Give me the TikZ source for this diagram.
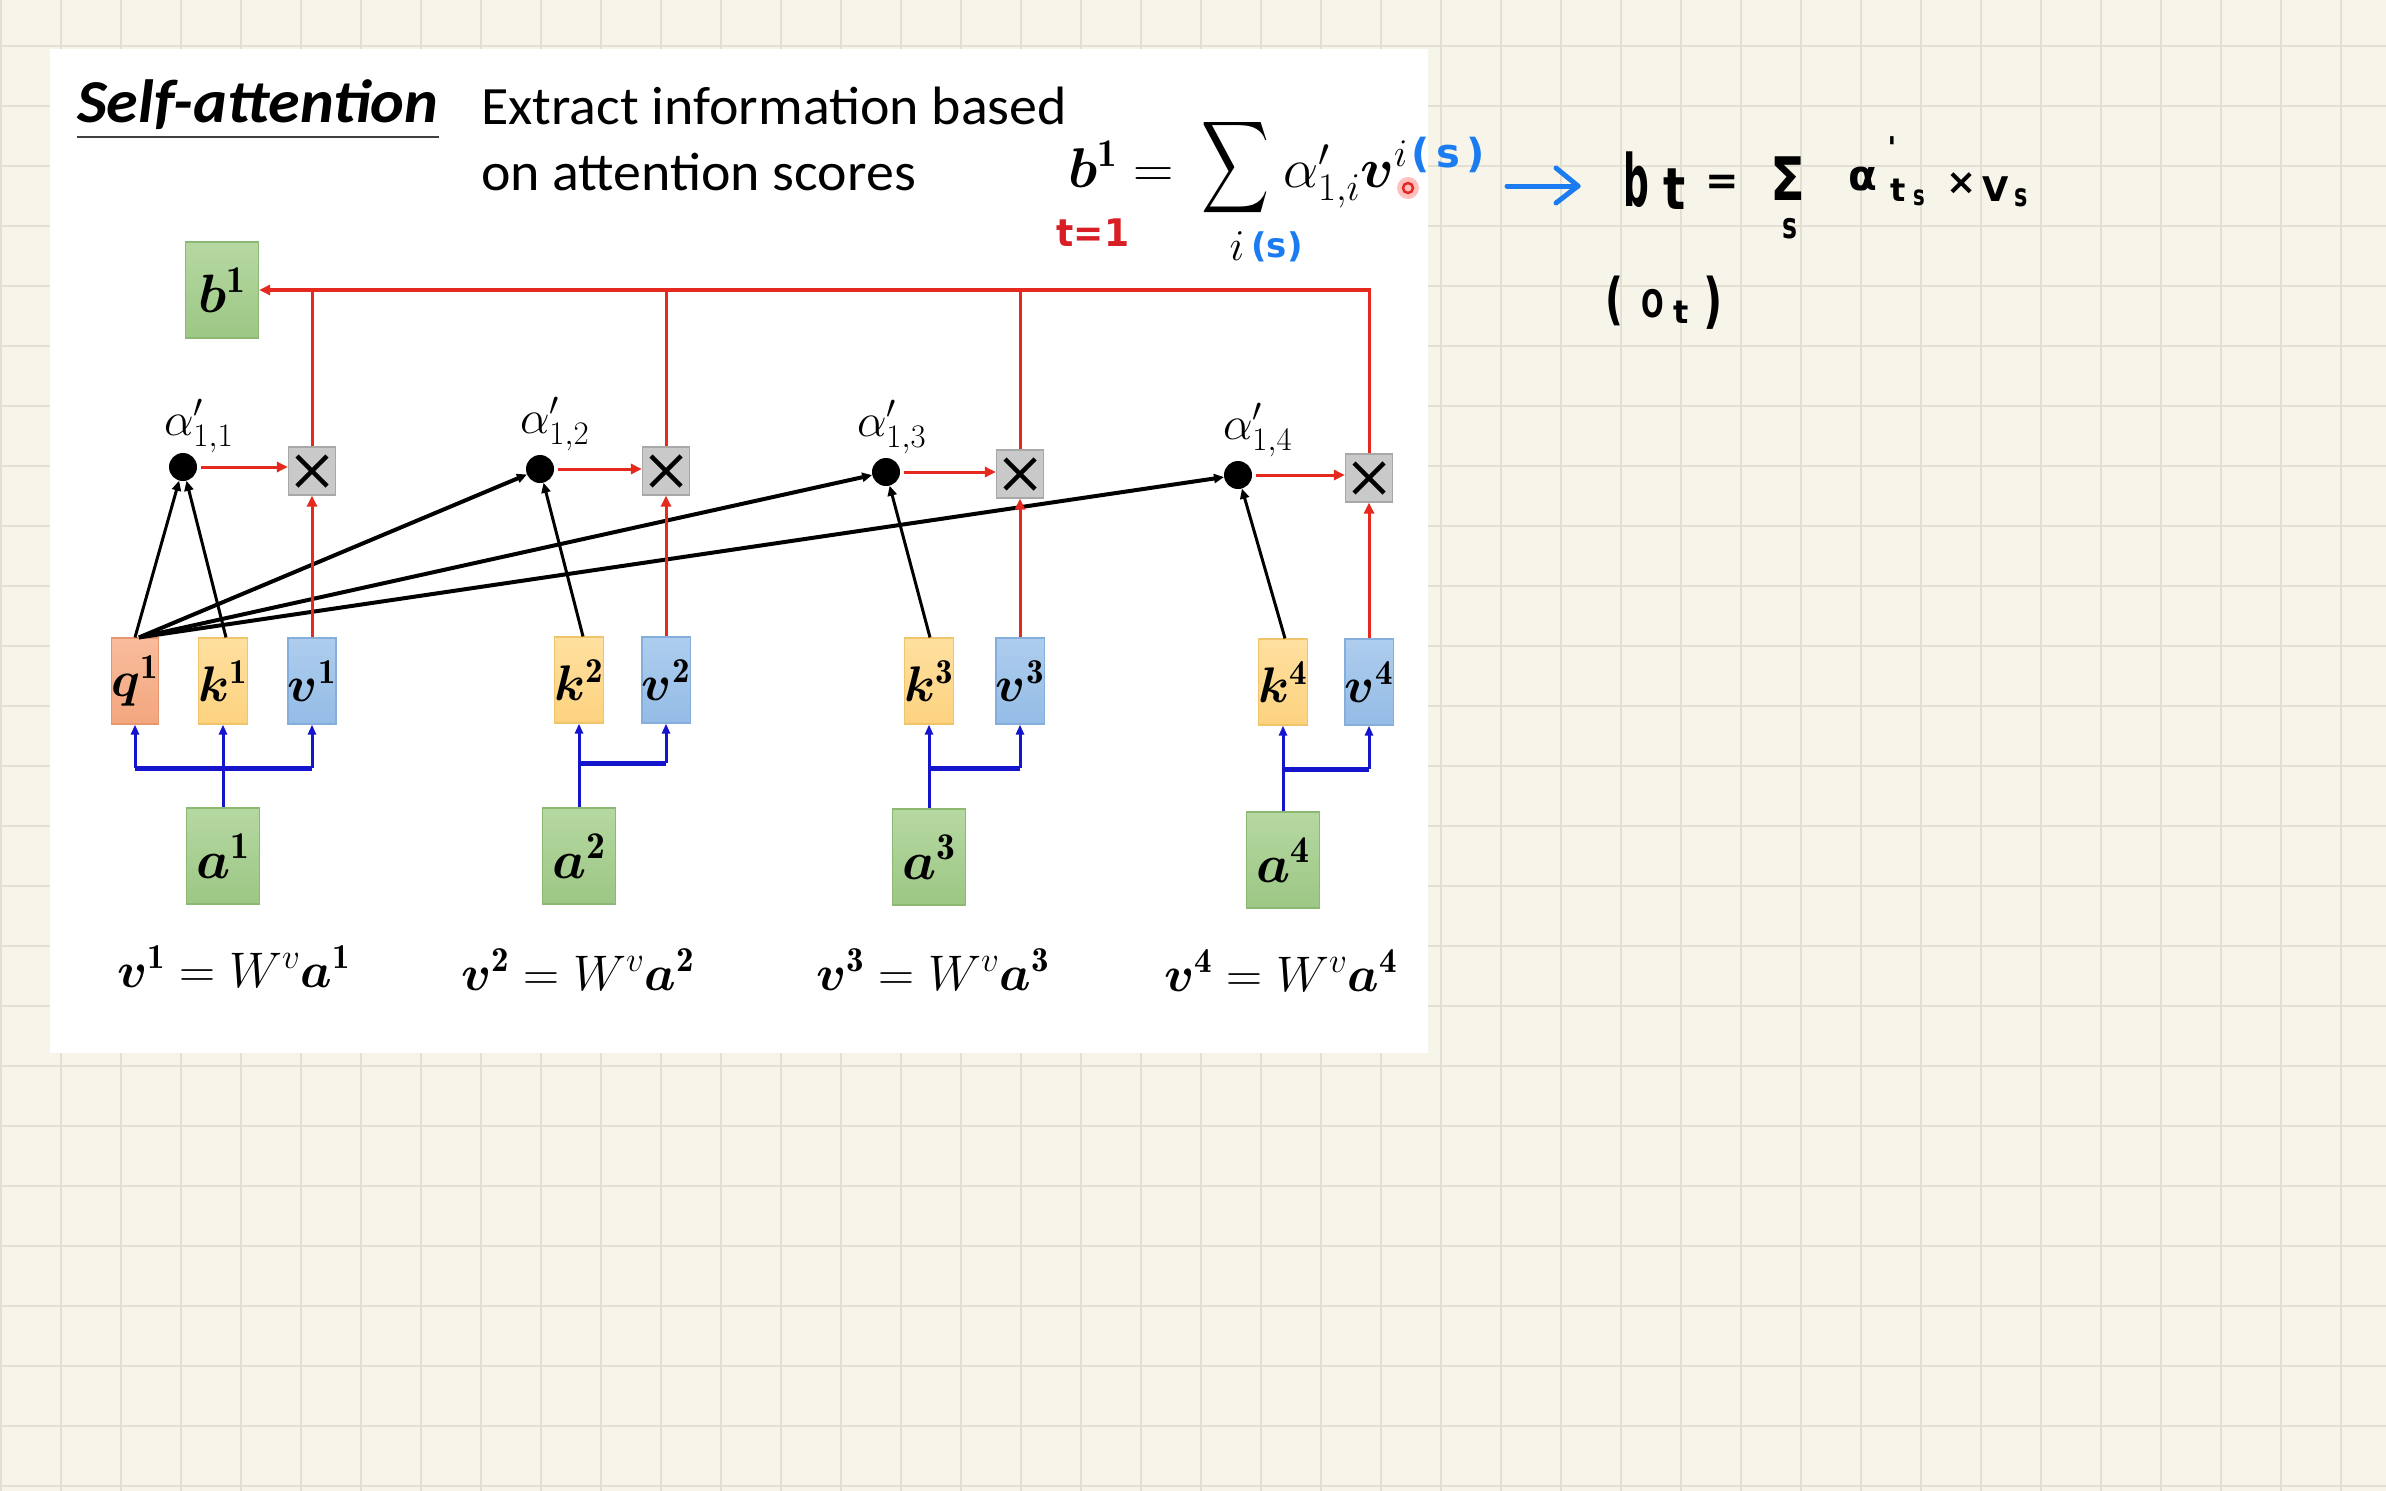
\RequirePackage{fix-cm}
\documentclass[tikz,border=0pt]{standalone}
\usepackage{amsmath}
\usepackage{bm}
\usepackage{graphicx}
\usepackage{fontspec}
\newfontfamily\calibri{Carlito}
\newfontfamily\hand{DejaVu Sans}
\usetikzlibrary{arrows.meta}
\definecolor{paper}{HTML}{F7F5EA}
\definecolor{gridc}{HTML}{E3E0D3}
\definecolor{qtop}{HTML}{F8BC9C}\definecolor{qbot}{HTML}{F3A67E}\definecolor{qdraw}{HTML}{E8966E}
\definecolor{ktop}{HTML}{FFE0A0}\definecolor{kbot}{HTML}{FCD27E}\definecolor{kdraw}{HTML}{F0C46A}
\definecolor{vtop}{HTML}{AECDEE}\definecolor{vbot}{HTML}{94BCE6}\definecolor{vdraw}{HTML}{86AEDC}
\definecolor{gtop}{HTML}{B6D8A2}\definecolor{gbot}{HTML}{9CC784}\definecolor{gdraw}{HTML}{8DB872}
\definecolor{xfill}{HTML}{C9C9C9}\definecolor{xdraw}{HTML}{A8A8A8}
\definecolor{redline}{HTML}{E5291E}
\definecolor{blueline}{HTML}{1414CC}
\definecolor{handblue}{HTML}{1A7CF0}
\definecolor{handred}{HTML}{D81F26}
\newcommand{\hx}[2]{\scalebox{#1}[1]{#2}}
\tikzset{
 bx/.style={rectangle, inner sep=0pt, line width=1.2pt, minimum width=47pt, minimum height=86pt, font=\fontsize{50}{54}\selectfont},
 qbox/.style={bx, draw=qdraw, top color=qtop, bottom color=qbot},
 kbox/.style={bx, draw=kdraw, top color=ktop, bottom color=kbot},
 vbox/.style={bx, draw=vdraw, top color=vtop, bottom color=vbot},
 gbox/.style={bx, draw=gdraw, top color=gtop, bottom color=gbot, minimum width=73pt, minimum height=96pt, font=\fontsize{54}{58}\selectfont},
 xbox/.style={rectangle, draw=xdraw, fill=xfill, line width=1.2pt, minimum width=47pt, minimum height=48pt, inner sep=0pt,
   path picture={\draw[line width=4.5pt,black] ([shift={(-15pt,-15pt)}]path picture bounding box.center) -- ([shift={(15pt,15pt)}]path picture bounding box.center);
                 \draw[line width=4.5pt,black] ([shift={(-15pt,15pt)}]path picture bounding box.center) -- ([shift={(15pt,-15pt)}]path picture bounding box.center);}},
 dot/.style={circle, fill=black, minimum size=28pt, inner sep=0pt},
 blk/.style={black, line width=3pt, -{Triangle[length=10pt,width=9pt]}},
 fan/.style={blk, line width=4pt},
 redarr/.style={redline, line width=3pt, -{Triangle[length=11pt,width=10pt]}},
 redln/.style={redline, line width=3pt},
 bluarr/.style={blueline, line width=3pt, -{Triangle[length=10pt,width=8pt]}},
 bluln/.style={blueline, line width=5pt},
 alab/.style={font=\fontsize{47}{50}\selectfont, anchor=base west, inner sep=0pt},
 eqlab/.style={font=\fontsize{50}{54}\selectfont, anchor=base west, inner sep=0pt},
 hw/.style={inner sep=0pt},
}
\begin{document}
\begin{tikzpicture}[x=1pt,y=-1pt]
\useasboundingbox (0,0) rectangle (2386,1491);
% paper
\fill[paper] (0,0) rectangle (2386,1491);
\foreach \x in {1,61,...,2341} \draw[gridc, line width=2.5pt] (\x,0) -- (\x,1491);
\foreach \y in {46,106,...,1486} \draw[gridc, line width=2.5pt] (0,\y) -- (2386,\y);
\fill[white] (50,49) rectangle (1428,1053);

% title and text
\node[anchor=base west, inner sep=0pt, font=\calibri\bfseries\itshape\fontsize{61}{64}\selectfont] (title) at (77,122) {\hx{1.05}{Self-attention}};
\draw[line width=2pt, black!75] ([yshift=-15pt]title.base west) -- ([yshift=-15pt]title.base east);
\node[anchor=base west, inner sep=0pt, font=\calibri\fontsize{54}{60}\selectfont] (ext1) at (481,124) {\hx{1.035}{Extract information based}};
\node[anchor=base west, inner sep=0pt, font=\calibri\fontsize{54}{60}\selectfont] (ext2) at (481,190) {\hx{1.035}{on attention scores}};

% formula
\node[anchor=base west, inner sep=0pt, font=\fontsize{56}{60}\selectfont] (fb) at (1068,187) {$\bm{b}^{\mathbf{1}}=$};
\node[inner sep=0pt] (fsum) at (1236,168) {\resizebox*{68pt}{103pt}{$\displaystyle\sum$}};
\node[inner sep=0pt, font=\fontsize{44}{46}\selectfont] (fi) at (1237,246) {$i$};
\node[anchor=base west, inner sep=0pt, font=\fontsize{56}{60}\selectfont] (fa) at (1283,187) {$\alpha'_{1,i}\bm{v}^{i}$};

% handwriting annotations
\node[hw, text=handred, font=\hand\bfseries\fontsize{38}{40}\selectfont] (tone) at (1093,233) {\hx{0.95}{t=1}};
\node[hw, text=handblue, font=\hand\bfseries\fontsize{34}{36}\selectfont] (sunder) at (1277,247) {(s)};
\node[hw, text=handblue, font=\hand\bfseries\fontsize{40}{42}\selectfont] (ssup) at (1448,155) {(\,s\,)};
\fill[red!35, opacity=0.7] (1408,188) circle (11pt);
\draw[redline, line width=2.5pt] (1408,188) circle (5pt);
\coordinate (arA) at (1507,186);
\coordinate (arB) at (1578,186);
\draw[handblue, line width=5pt, line cap=round] (arA) -- (arB);
\draw[handblue, line width=5pt, line cap=round, line join=round] (1556,168) -- (arB) -- (1556,203);
\node[hw, font=\hand\bfseries\fontsize{72}{72}\selectfont] (hb) at (1636,180) {\hx{0.5}{b}};
\node[hw, font=\hand\bfseries\fontsize{58}{58}\selectfont] (ht) at (1675,189) {\hx{0.8}{t}};
\node[hw, font=\hand\bfseries\fontsize{40}{40}\selectfont] (heq) at (1722,185) {=};
\node[hw, font=\hand\bfseries\fontsize{60}{60}\selectfont] (hsum) at (1788,179) {\hx{0.85}{Σ}};
\node[hw, font=\hand\bfseries\fontsize{36}{36}\selectfont] (hs1) at (1790,229) {\hx{0.7}{s}};
\node[hw, font=\hand\bfseries\fontsize{42}{42}\selectfont] (halpha) at (1863,179) {α};
\node[hw, font=\hand\bfseries\fontsize{30}{30}\selectfont] (hprime) at (1892,148) {'};
\node[hw, font=\hand\bfseries\fontsize{32}{32}\selectfont] (ht2) at (1898,190) {t};
\node[hw, font=\hand\bfseries\fontsize{28}{28}\selectfont] (hs2) at (1919,198) {\hx{0.7}{s}};
\node[hw, font=\hand\bfseries\fontsize{36}{36}\selectfont] (htimes) at (1962,184) {×};
\node[hw, font=\hand\bfseries\fontsize{34}{34}\selectfont] (hV) at (1996,189) {V};
\node[hw, font=\hand\bfseries\fontsize{32}{32}\selectfont] (hs3) at (2021,198) {\hx{0.7}{s}};
\node[hw, font=\hand\bfseries\fontsize{56}{56}\selectfont] (hlp) at (1614,301) {\hx{0.7}{(}};
\node[hw, font=\hand\bfseries\fontsize{38}{38}\selectfont] (hO) at (1653,304) {\hx{0.7}{O}};
\node[hw, font=\hand\bfseries\fontsize{32}{32}\selectfont] (ht3) at (1681,312) {t};
\node[hw, font=\hand\bfseries\fontsize{60}{60}\selectfont] (hrp) at (1713,303) {\hx{0.7}{)}};

% output box
\node[gbox] (b1) at (222,290) {$\bm{b}^{\mathbf{1}}$};

% dots and multiply boxes
\node[dot] (d1) at (183,467) {};
\node[dot] (d2) at (540,469) {};
\node[dot] (d3) at (886,472) {};
\node[dot] (d4) at (1238,475) {};
\node[xbox] (m1) at (312,471) {};
\node[xbox] (m2) at (666,471) {};
\node[xbox] (m3) at (1020,474) {};
\node[xbox] (m4) at (1369,478) {};

\node[alab] (al1) at (164,435) {$\alpha'_{1,1}$};
\node[alab] (al2) at (520,433) {$\alpha'_{1,2}$};
\node[alab] (al3) at (857,436) {$\alpha'_{1,3}$};
\node[alab] (al4) at (1223,439) {$\alpha'_{1,4}$};

% q k v boxes
\node[qbox] (q1) at (135,681) {$\bm{q}^{\mathbf{1}}$};
\node[kbox] (k1) at (223,681) {$\bm{k}^{\mathbf{1}}$};
\node[vbox] (v1) at (312,681) {$\bm{v}^{\mathbf{1}}$};
\node[kbox] (k2) at (579,680) {$\bm{k}^{\mathbf{2}}$};
\node[vbox] (v2) at (666,680) {$\bm{v}^{\mathbf{2}}$};
\node[kbox] (k3) at (929,681) {$\bm{k}^{\mathbf{3}}$};
\node[vbox] (v3) at (1020,681) {$\bm{v}^{\mathbf{3}}$};
\node[kbox] (k4) at (1283,682) {$\bm{k}^{\mathbf{4}}$};
\node[vbox] (v4) at (1369,682) {$\bm{v}^{\mathbf{4}}$};

% a boxes
\node[gbox] (a1) at (223,856) {$\bm{a}^{\mathbf{1}}$};
\node[gbox] (a2) at (579,856) {$\bm{a}^{\mathbf{2}}$};
\node[gbox] (a3) at (929,857) {$\bm{a}^{\mathbf{3}}$};
\node[gbox] (a4) at (1283,860) {$\bm{a}^{\mathbf{4}}$};

% equations
\node[eqlab] (e1) at (117,987) {$\bm{v}^{\mathbf{1}}=W^{v}\bm{a}^{\mathbf{1}}$};
\node[eqlab] (e2) at (461,990) {$\bm{v}^{\mathbf{2}}=W^{v}\bm{a}^{\mathbf{2}}$};
\node[eqlab] (e3) at (816,990) {$\bm{v}^{\mathbf{3}}=W^{v}\bm{a}^{\mathbf{3}}$};
\node[eqlab] (e4) at (1164,991) {$\bm{v}^{\mathbf{4}}=W^{v}\bm{a}^{\mathbf{4}}$};

% blue connectors
\coordinate (j1) at (223,768);
\coordinate (j2) at (579,763);
\coordinate (j3) at (929,768);
\coordinate (j4) at (1283,769);
\draw[bluln] (j1 -| q1.south) -- (j1 -| v1.south);
\draw[bluln] (j2) -- (j2 -| v2.south);
\draw[bluln] (j3) -- (j3 -| v3.south);
\draw[bluln] (j4) -- (j4 -| v4.south);
\draw[bluarr] (a1.north) -- (k1.south);
\draw[bluarr] (j1 -| q1.south) -- (q1.south);
\draw[bluarr] (j1 -| v1.south) -- (v1.south);
\draw[bluarr] (a2.north) -- (k2.south);
\draw[bluarr] (j2 -| v2.south) -- (v2.south);
\draw[bluarr] (a3.north) -- (k3.south);
\draw[bluarr] (j3 -| v3.south) -- (v3.south);
\draw[bluarr] (a4.north) -- (k4.south);
\draw[bluarr] (j4 -| v4.south) -- (v4.south);

% black connectors
\draw[blk] (q1.north) -- (d1);
\draw[blk] ([xshift=3pt]k1.north) -- (d1);
\draw[fan] ([xshift=4pt]q1.north) -- (d2);
\draw[fan] ([xshift=4pt]q1.north) -- (d3);
\draw[fan] ([xshift=4pt]q1.north) -- (d4);
\draw[blk] ([xshift=4pt]k2.north) -- (d2);
\draw[blk] ([xshift=1pt]k3.north) -- (d3);
\draw[blk] ([xshift=2pt]k4.north) -- (d4);

% red connectors
\draw[redarr, shorten <=4pt] (d1.east) -- (d1.east -| m1.west);
\draw[redarr, shorten <=4pt] (d2.east) -- (d2.east -| m2.west);
\draw[redarr, shorten <=4pt] (d3.east) -- (d3.east -| m3.west);
\draw[redarr, shorten <=4pt] (d4.east) -- (d4.east -| m4.west);
\draw[redarr] (v1.north) -- (m1.south);
\draw[redarr] (v2.north) -- (m2.south);
\draw[redarr] (v3.north) -- (m3.south);
\draw[redarr] (v4.north) -- (m4.south);
\draw[redln] (m1.north) -- (m1.north |- b1.east);
\draw[redln] (m2.north) -- (m2.north |- b1.east);
\draw[redln] (m3.north) -- (m3.north |- b1.east);
\draw[redln] (m4.north) -- (m4.north |- b1.east);
\draw[redarr, line width=4.5pt] ([xshift=1.5pt]m4.north |- b1.east) -- (b1.east);
\end{tikzpicture}
\end{document}
